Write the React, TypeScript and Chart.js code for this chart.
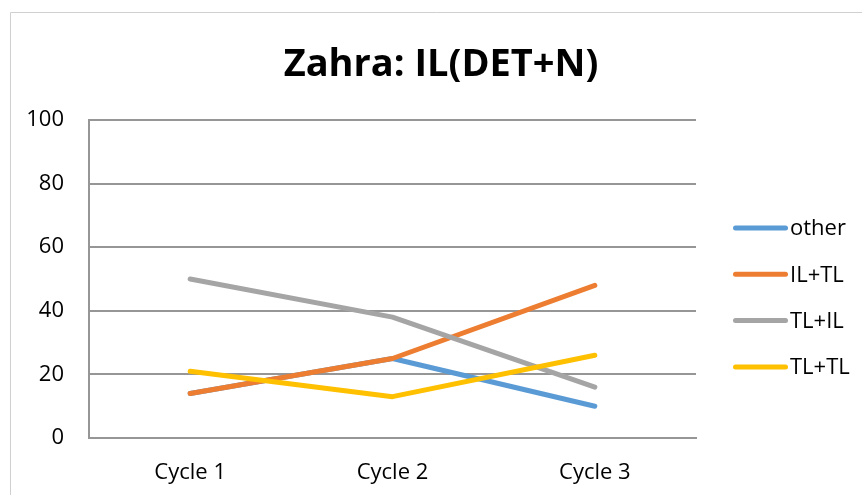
import React, { useEffect, useRef } from "react";
import { Chart, registerables } from "chart.js";

Chart.register(...registerables);

const chartTitle = "Zahra: IL(DET+N)";
const categories = ["Cycle 1", "Cycle 2", "Cycle 3"];
const seriesNames = ["other", "IL+TL", "TL+IL", "TL+TL"];
const otherValues = [14, 25, 10];
const ilTlValues = [14, 25, 48];
const tlIlValues = [50, 38, 16];
const tlTlValues = [21, 13, 26];
const seriesColors = ["#5B9BD5", "#ED7D31", "#A5A5A5", "#FFC000"];
const yMin = 0;
const yMax = 100;
const yStep = 20;

const FONT = "'Open Sans', sans-serif";

const decorPlugin = {
  id: "decor",
  afterDraw(chart: any) {
    const ctx = chart.ctx as CanvasRenderingContext2D;
    ctx.save();
    // outer chart border (left and top visible)
    ctx.strokeStyle = "#d0d0d0";
    ctx.lineWidth = 1;
    ctx.beginPath();
    ctx.moveTo(10.5, chart.height);
    ctx.lineTo(10.5, 12.5);
    ctx.lineTo(chart.width, 12.5);
    ctx.stroke();

    // title
    ctx.fillStyle = "#000";
    ctx.font = `bold 38px ${FONT}`;
    ctx.textAlign = "center";
    ctx.textBaseline = "alphabetic";
    ctx.fillText(chartTitle, 441, 76);

    // legend
    const datasets = chart.data.datasets;
    ctx.font = `22px ${FONT}`;
    ctx.textAlign = "left";
    ctx.textBaseline = "middle";
    datasets.forEach((ds: any, i: number) => {
      const y = 228 + i * 46.3;
      ctx.strokeStyle = ds.borderColor;
      ctx.lineWidth = 5;
      ctx.lineCap = "round";
      ctx.beginPath();
      ctx.moveTo(735.5, y);
      ctx.lineTo(785.5, y);
      ctx.stroke();
      ctx.fillStyle = "#000";
      ctx.fillText(ds.label, 790, y + 1);
    });
    ctx.restore();
  },
};

export default function App() {
  const ref = useRef<HTMLCanvasElement>(null);

  useEffect(() => {
    if (!ref.current) return;
    const values = [otherValues, ilTlValues, tlIlValues, tlTlValues];
    const chart = new Chart(ref.current, {
      type: "line",
      data: {
        labels: categories,
        datasets: seriesNames.map((name, i) => ({
          label: name,
          data: values[i],
          borderColor: seriesColors[i],
          backgroundColor: seriesColors[i],
          borderWidth: 5,
          borderCapStyle: "round" as const,
          borderJoinStyle: "round" as const,
          pointRadius: 0,
          pointHoverRadius: 0,
          tension: 0,
          fill: false,
          order: seriesNames.length - i,
        })),
      },
      options: {
        responsive: false,
        animation: false,
        layout: { padding: { top: 120, right: 166, bottom: 0, left: 0 } },
        plugins: {
          legend: { display: false },
          title: { display: false },
          tooltip: { enabled: false },
        },
        scales: {
          x: {
            offset: true,
            grid: { display: false, drawTicks: false },
            border: { display: true, color: "#969696", width: 2 },
            ticks: {
              color: "#000",
              font: { family: FONT, size: 22 },
              padding: 22,
            },
            afterFit: (s: any) => {
              s.height = 57;
            },
          },
          y: {
            min: yMin,
            max: yMax,
            grid: { color: "#969696", lineWidth: 2, drawTicks: false },
            border: { display: true, color: "#969696", width: 2 },
            ticks: {
              stepSize: yStep,
              color: "#000",
              font: { family: FONT, size: 22 },
              padding: 25,
            },
            afterFit: (s: any) => {
              s.width = 89;
            },
          },
        },
      },
      plugins: [decorPlugin],
    });
    return () => chart.destroy();
  }, []);

  return (
    <div style={{ position: "fixed", left: 0, top: 0, width: 862, height: 495, background: "#fff" }}>
      <canvas ref={ref} width={862} height={495} />
    </div>
  );
}
